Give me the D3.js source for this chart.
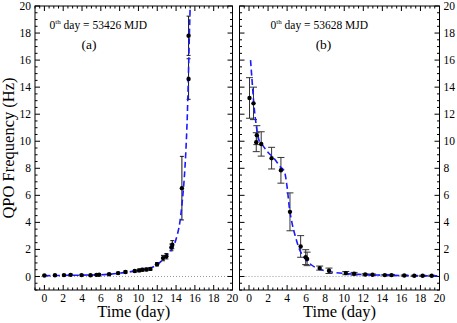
<!DOCTYPE html>
<html><head><meta charset="utf-8">
<script src="https://cdn.jsdelivr.net/npm/d3@7"></script>
<style>body{margin:0;background:#fff}svg{display:block}text{font-family:"Liberation Serif","Times New Roman",serif}</style>
</head><body><svg id="c" width="457" height="323"></svg>
<script>
// Panel (a): 0th day = 53426 MJD
const aDay  = [0.0, 1.12, 2.08, 2.79, 3.95, 4.9, 5.54, 5.82, 6.88, 7.84, 8.62, 9.61, 10.07, 10.42, 10.85, 11.27, 11.97, 12.61, 12.97, 13.5, 13.6, 14.62, 15.33, 15.33];
const aFreq = [0.07, 0.09, 0.1, 0.12, 0.1, 0.09, 0.12, 0.13, 0.17, 0.25, 0.33, 0.4, 0.45, 0.5, 0.52, 0.56, 0.9, 1.36, 1.5, 2.15, 2.35, 6.53, 14.6, 17.8];
const aErr  = [0.05, 0.05, 0.05, 0.05, 0.05, 0.05, 0.05, 0.05, 0.06, 0.07, 0.08, 0.08, 0.1, 0.1, 0.1, 0.1, 0.12, 0.2, 0.2, 0.25, 0.3, 2.35, 1.5, 1.45];
const aFitDay  = [0, 2, 4, 6, 8, 9, 10, 11, 12, 12.6, 13.2, 13.7, 14.1, 14.4, 14.65, 14.94, 15.09, 15.2, 15.28, 15.35, 15.42, 15.5, 15.56];
const aFitFreq = [0.05, 0.08, 0.1, 0.13, 0.24, 0.33, 0.45, 0.58, 0.88, 1.25, 1.7, 2.2, 3.0, 4.0, 5.5, 8, 10, 12, 14, 16, 18, 20, 21.5];

// Panel (b): 0th day = 53628 MJD
const bDay  = [0.05, 0.47, 0.82, 0.76, 1.28, 2.37, 3.35, 4.3, 5.42, 5.95, 6.1, 7.42, 8.4, 10.16, 11.03, 12.2, 12.97, 14.26, 14.96, 16.3, 17.35, 18.23, 19.18];
const bFreq = [13.2, 12.8, 10.45, 9.93, 9.8, 8.75, 7.85, 4.78, 2.22, 1.43, 1.3, 0.62, 0.42, 0.25, 0.2, 0.15, 0.13, 0.1, 0.1, 0.07, 0.05, 0.05, 0.05];
const bErr  = [1.5, 1.2, 0.7, 0.7, 0.9, 0.8, 0.95, 1.4, 0.8, 0.55, 0.5, 0.15, 0.2, 0.12, 0.1, 0.05, 0.05, 0.05, 0.05, 0.04, 0.04, 0.04, 0.04];
const bFitDay  = [0.16, 0.34, 0.5, 0.68, 0.86, 1.04, 1.4, 1.92, 2.6, 3.3, 3.7, 4.0, 4.25, 4.5, 4.85, 5.3, 5.8, 6.3, 7.35, 8.3, 10, 12, 14, 16, 18, 20];
const bFitFreq = [16, 14.3, 12.8, 11.6, 10.7, 10.1, 9.73, 9.24, 8.75, 8.1, 7.8, 6.6, 5.0, 4.0, 3.0, 2.0, 1.4, 1.0, 0.55, 0.38, 0.22, 0.14, 0.1, 0.07, 0.05, 0.04];

const xTicks = [0, 2, 4, 6, 8, 10, 12, 14, 16, 18, 20];
const yTicks = [0, 2, 4, 6, 8, 10, 12, 14, 16, 18, 20];
const mjd = ["53426", "53628"];
const panelTags = ["(a)", "(b)"];

const svg = d3.select("#c");
const yTop = 6, yBot = 290;
const y = d3.scaleLinear().domain([-1, 20]).range([yBot, yTop]);

const panels = [
  {x0: 35, x1: 232.5, day: aDay, freq: aFreq, err: aErr, fd: aFitDay, ff: aFitFreq, cap: 2, ecol: "#111", side: "left"},
  {x0: 239.5, x1: 439.5, day: bDay, freq: bFreq, err: bErr, fd: bFitDay, ff: bFitFreq, cap: 3.5, ecol: "#333", side: "right"}
];

panels.forEach((p, i) => {
  const x = d3.scaleLinear().domain([-1, 20]).range([p.x0, p.x1]);
  const g = svg.append("g");
  const cid = "clip" + i;
  svg.append("clipPath").attr("id", cid).append("rect")
    .attr("x", p.x0).attr("y", yTop).attr("width", p.x1 - p.x0).attr("height", yBot - yTop);

  g.append("line").attr("x1", p.x0).attr("x2", p.x1).attr("y1", y(0)).attr("y2", y(0))
    .attr("stroke", "#999").attr("stroke-width", 1).attr("stroke-dasharray", "1,2");

  const minorX = d3.range(-1, 20.01, 0.5).filter(v => v % 2 !== 0);
  const minorY = d3.range(-1, 20.01, 0.5).filter(v => v % 2 !== 0);
  const tk = g.append("g").attr("stroke", "#000").attr("stroke-width", 1);
  xTicks.forEach(v => {
    tk.append("line").attr("x1", x(v)).attr("x2", x(v)).attr("y1", yBot).attr("y2", yBot - 5);
    tk.append("line").attr("x1", x(v)).attr("x2", x(v)).attr("y1", yTop).attr("y2", yTop + 5);
  });
  minorX.forEach(v => {
    tk.append("line").attr("x1", x(v)).attr("x2", x(v)).attr("y1", yBot).attr("y2", yBot - 2.5);
    tk.append("line").attr("x1", x(v)).attr("x2", x(v)).attr("y1", yTop).attr("y2", yTop + 2.5);
  });
  yTicks.forEach(v => {
    tk.append("line").attr("x1", p.x0).attr("x2", p.x0 + 5).attr("y1", y(v)).attr("y2", y(v));
    tk.append("line").attr("x1", p.x1).attr("x2", p.x1 - 5).attr("y1", y(v)).attr("y2", y(v));
  });
  minorY.forEach(v => {
    tk.append("line").attr("x1", p.x0).attr("x2", p.x0 + 2.5).attr("y1", y(v)).attr("y2", y(v));
    tk.append("line").attr("x1", p.x1).attr("x2", p.x1 - 2.5).attr("y1", y(v)).attr("y2", y(v));
  });

  g.append("g").selectAll("text").data(xTicks).join("text")
    .attr("x", d => x(d)).attr("y", 301.5).attr("text-anchor", "middle")
    .attr("font-size", 11.5).text(d => d);
  g.append("g").selectAll("text").data(yTicks).join("text")
    .attr("x", p.side === "left" ? p.x0 - 4 : p.x1 + 4)
    .attr("y", d => y(d)).attr("dy", "0.35em")
    .attr("text-anchor", p.side === "left" ? "end" : "start")
    .attr("font-size", 11.5).text(d => d);

  const eb = g.append("g").attr("stroke", p.ecol).attr("stroke-width", 1).attr("clip-path", `url(#${cid})`);
  p.day.forEach((d, k) => {
    const lo = p.freq[k] - p.err[k], hi = p.freq[k] + p.err[k];
    eb.append("line").attr("x1", x(d)).attr("x2", x(d)).attr("y1", y(lo)).attr("y2", y(hi));
    eb.append("line").attr("x1", x(d) - p.cap).attr("x2", x(d) + p.cap).attr("y1", y(lo)).attr("y2", y(lo));
    eb.append("line").attr("x1", x(d) - p.cap).attr("x2", x(d) + p.cap).attr("y1", y(hi)).attr("y2", y(hi));
  });

  const line = d3.line().x(d => x(d[0])).y(d => y(d[1])).curve(d3.curveMonotoneX);
  g.append("path").datum(p.fd.map((d, k) => [d, p.ff[k]]))
    .attr("d", line).attr("fill", "none").attr("stroke", "#1a1aff")
    .attr("stroke-width", 1.6).attr("stroke-dasharray", "6,3.5").attr("clip-path", `url(#${cid})`);

  g.append("g").selectAll("circle").data(p.day).join("circle")
    .attr("cx", d => x(d)).attr("cy", (d, k) => y(p.freq[k])).attr("r", 2.2).attr("fill", "#000");

  g.append("rect").attr("x", p.x0).attr("y", yTop).attr("width", p.x1 - p.x0).attr("height", yBot - yTop)
    .attr("fill", "none").attr("stroke", "#000").attr("stroke-width", 1);

  const cx = (p.x0 + p.x1) / 2;
  const ann = g.append("text").attr("x", i === 0 ? 49.5 : 270.5).attr("y", 28.5).attr("font-size", 11.5);
  ann.append("tspan").text("0");
  ann.append("tspan").attr("font-size", 7).attr("dy", -5).text("th");
  ann.append("tspan").attr("dy", 5).text(" day = " + mjd[i] + " MJD");
  g.append("text").attr("x", i === 0 ? 89 : 323.5).attr("y", 48.5).attr("text-anchor", "middle")
    .attr("font-size", 13.5).text(panelTags[i]);

  g.append("text").attr("x", cx).attr("y", 317).attr("text-anchor", "middle")
    .attr("font-size", 16.5).text("Time (day)");
});

svg.append("text").attr("transform", `translate(14,${(yTop + yBot) / 2}) rotate(-90)`)
  .attr("text-anchor", "middle").attr("font-size", 16.5).text("QPO Frequency (Hz)");
</script></body></html>
